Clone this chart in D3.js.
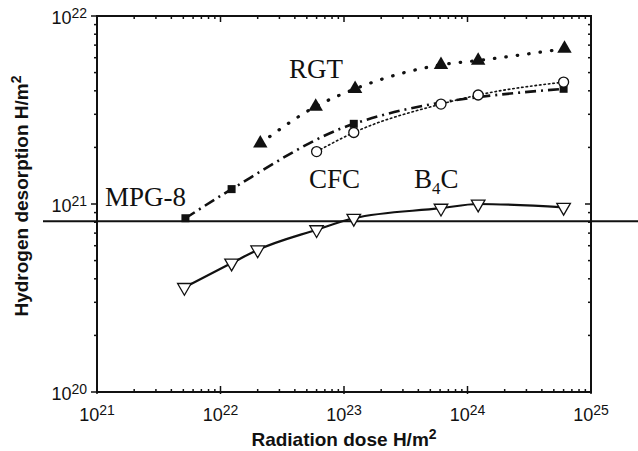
<!DOCTYPE html>
<html>
<head>
<meta charset="utf-8">
<script src="https://cdn.jsdelivr.net/npm/d3@7"></script>
<style>
  body { margin: 0; background: #fff; }
  svg { display: block; }
  .tick-label { font-family: "Liberation Sans", Arial, sans-serif; font-size: 18px; fill: #111; }
  .axis-title { font-family: "Liberation Sans", Arial, sans-serif; font-size: 19px; font-weight: bold; fill: #111; }
  .series-label { font-family: "Liberation Serif", "Times New Roman", serif; font-size: 27px; fill: #111; }
</style>
</head>
<body>
<svg id="chart"></svg>
<script>
// dose (H/m2) and desorbed hydrogen (H/m2)
var rgtDose = [2.1e22, 5.9e22, 1.23e23, 6.1e23, 1.22e24, 6.1e24];
var rgtDes  = [2.1e21, 3.3e21, 4.1e21, 5.5e21, 5.8e21, 6.7e21];

var mpgDose = [5.2e21, 1.23e22, 1.2e23, 6.0e24];
var mpgDes  = [8.4e20, 1.2e21, 2.67e21, 4.1e21];

var cfcDose = [6.0e22, 1.2e23, 6.1e23, 1.22e24, 6.0e24];
var cfcDes  = [1.9e21, 2.4e21, 3.4e21, 3.8e21, 4.45e21];

var b4cDose = [5.1e21, 1.23e22, 2.0e22, 6.0e22, 1.2e23, 6.1e23, 1.22e24, 6.0e24];
var b4cDes  = [3.6e20, 4.85e20, 5.7e20, 7.3e20, 8.4e20, 9.5e20, 1.0e21, 9.6e20];

var refLevel = 8.1e20;   // horizontal line across the figure

var xTickExp = [21, 22, 23, 24, 25];
var yTickExp = [20, 21, 22];

(function () {
    var width = 638, height = 451;
    var svg = d3.select('#chart').attr('width', width).attr('height', height);

    var x = d3.scaleLog().domain([1e21, 1e25]).range([97, 591]);
    var y = d3.scaleLog().domain([1e20, 1e22]).range([392, 16]);

    var ink = '#111';

    // frame
    svg.append('rect').attr('x', x(1e21)).attr('y', y(1e22))
        .attr('width', x(1e25) - x(1e21)).attr('height', y(1e20) - y(1e22))
        .attr('fill', 'none').attr('stroke', ink).attr('stroke-width', 2);

    // ticks: minor at 2..9 of each decade
    var xMinor = [], yMinor = [];
    for (var e = 21; e < 25; e++) for (var m = 2; m < 10; m++) xMinor.push(m * Math.pow(10, e));
    for (var e2 = 20; e2 < 22; e2++) for (var m2 = 2; m2 < 10; m2++) yMinor.push(m2 * Math.pow(10, e2));

    var ticks = svg.append('g').attr('stroke', ink).attr('stroke-width', 1.5);
    xMinor.forEach(function (v) {
        ticks.append('line').attr('x1', x(v)).attr('x2', x(v)).attr('y1', y(1e20)).attr('y2', y(1e20) - 3);
        ticks.append('line').attr('x1', x(v)).attr('x2', x(v)).attr('y1', y(1e22)).attr('y2', y(1e22) + 3);
    });
    xTickExp.forEach(function (p) {
        var v = Math.pow(10, p);
        ticks.append('line').attr('x1', x(v)).attr('x2', x(v)).attr('y1', y(1e20) + 2).attr('y2', y(1e20) - 6);
        ticks.append('line').attr('x1', x(v)).attr('x2', x(v)).attr('y1', y(1e22)).attr('y2', y(1e22) + 6);
    });
    yMinor.forEach(function (v) {
        ticks.append('line').attr('x1', x(1e21)).attr('x2', x(1e21) - 3).attr('y1', y(v)).attr('y2', y(v));
        ticks.append('line').attr('x1', x(1e25)).attr('x2', x(1e25) - 3).attr('y1', y(v)).attr('y2', y(v));
    });
    yTickExp.forEach(function (p) {
        var v = Math.pow(10, p);
        ticks.append('line').attr('x1', x(1e21)).attr('x2', x(1e21) - 6).attr('y1', y(v)).attr('y2', y(v));
        ticks.append('line').attr('x1', x(1e25)).attr('x2', x(1e25) - 6).attr('y1', y(v)).attr('y2', y(v));
    });

    // tick labels 10^n
    xTickExp.forEach(function (p) {
        var t = svg.append('text').attr('class', 'tick-label').attr('x', x(Math.pow(10, p)))
            .attr('y', 421).attr('text-anchor', 'middle');
        t.append('tspan').text('10');
        t.append('tspan').attr('dy', -6).attr('font-size', 14).text(p);
    });
    yTickExp.forEach(function (p) {
        var t = svg.append('text').attr('class', 'tick-label').attr('x', 87)
            .attr('y', y(Math.pow(10, p)) + 8).attr('text-anchor', 'end');
        t.append('tspan').text('10');
        t.append('tspan').attr('dy', -6).attr('font-size', 14).text(p);
    });

    // axis titles
    var xt = svg.append('text').attr('class', 'axis-title').attr('x', 344).attr('y', 446).attr('text-anchor', 'middle');
    xt.append('tspan').text('Radiation dose H/m');
    xt.append('tspan').attr('dy', -7).attr('font-size', 14).text('2');
    var yt = svg.append('text').attr('class', 'axis-title')
        .attr('transform', 'translate(28,196) rotate(-90)').attr('text-anchor', 'middle');
    yt.append('tspan').text('Hydrogen desorption H/m');
    yt.append('tspan').attr('dy', -7).attr('font-size', 14).text('2');

    // horizontal reference line
    svg.append('line').attr('x1', 43).attr('x2', width).attr('y1', y(refLevel)).attr('y2', y(refLevel))
        .attr('stroke', ink).attr('stroke-width', 2);

    var line = d3.line().x(function (d) { return x(d[0]); }).y(function (d) { return y(d[1]); })
        .curve(d3.curveMonotoneX);
    function pairs(a, b) { return a.map(function (v, i) { return [v, b[i]]; }); }

    var series = [
        { dose: b4cDose, des: b4cDes, dash: null, w: 2.2, cap: 'butt' },
        { dose: cfcDose, des: cfcDes, dash: '1.5,3', w: 1.6, cap: 'round' },
        { dose: mpgDose, des: mpgDes, dash: '11,5,2,5', w: 2.6, cap: 'butt' },
        { dose: rgtDose, des: rgtDes, dash: '0.5,11', w: 3.2, cap: 'round' }
    ];
    series.forEach(function (s) {
        svg.append('path').datum(pairs(s.dose, s.des)).attr('d', line)
            .attr('fill', 'none').attr('stroke', ink).attr('stroke-width', s.w)
            .attr('stroke-linecap', s.cap).attr('stroke-dasharray', s.dash);
    });

    // markers
    var triUp = d3.symbol().type(d3.symbolTriangle).size(90);
    var triDown = d3.symbol().type(d3.symbolTriangle).size(80);
    svg.append('g').selectAll('path').data(pairs(rgtDose, rgtDes)).enter().append('path')
        .attr('d', triUp).attr('transform', function (d) { return 'translate(' + x(d[0]) + ',' + y(d[1]) + ')'; })
        .attr('fill', ink);
    svg.append('g').selectAll('rect').data(pairs(mpgDose, mpgDes)).enter().append('rect')
        .attr('x', function (d) { return x(d[0]) - 4; }).attr('y', function (d) { return y(d[1]) - 4; })
        .attr('width', 8).attr('height', 8).attr('fill', ink);
    svg.append('g').selectAll('circle').data(pairs(cfcDose, cfcDes)).enter().append('circle')
        .attr('cx', function (d) { return x(d[0]); }).attr('cy', function (d) { return y(d[1]); })
        .attr('r', 5).attr('fill', '#fff').attr('stroke', ink).attr('stroke-width', 1.3);
    svg.append('g').selectAll('path').data(pairs(b4cDose, b4cDes)).enter().append('path')
        .attr('d', triDown).attr('transform', function (d) { return 'translate(' + x(d[0]) + ',' + y(d[1]) + ') rotate(180)'; })
        .attr('fill', '#fff').attr('stroke', ink).attr('stroke-width', 1.3);

    // series names
    svg.append('text').attr('class', 'series-label').attr('x', 289).attr('y', 78).text('RGT');
    svg.append('text').attr('class', 'series-label').attr('x', 309).attr('y', 188).text('CFC');
    svg.append('text').attr('class', 'series-label').attr('x', 105).attr('y', 206).text('MPG-8');
    var b = svg.append('text').attr('class', 'series-label').attr('x', 414).attr('y', 188);
    b.append('tspan').text('B');
    b.append('tspan').attr('dy', 6).attr('font-size', 17).text('4');
    b.append('tspan').attr('dy', -6).text('C');
})();
</script>
</body>
</html>
